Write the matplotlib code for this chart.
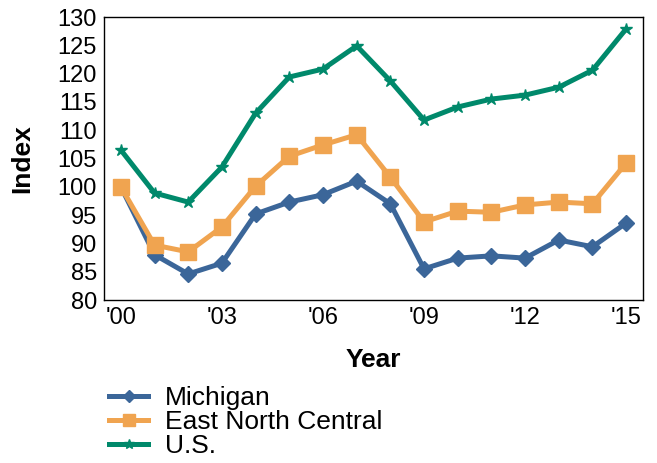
import numpy as np
import matplotlib.pyplot as plt

plt.rcParams['font.family'] = ['Liberation Sans', 'DejaVu Sans']

years = np.arange(2000, 2016)
year_ticks = [2000, 2003, 2006, 2009, 2012, 2015]
year_labels = ["'00", "'03", "'06", "'09", "'12", "'15"]

michigan = [100.0, 88.0, 84.6, 86.5, 95.2, 97.3, 98.6, 101.0, 97.0, 85.5, 87.4, 87.8, 87.4, 90.6, 89.4, 93.6]
enc = [100.0, 89.7, 88.5, 92.9, 100.1, 105.4, 107.4, 109.2, 101.7, 93.8, 95.7, 95.5, 96.8, 97.3, 97.0, 104.2]
us = [106.5, 98.9, 97.3, 103.5, 113.0, 119.4, 120.8, 124.9, 118.7, 111.8, 114.1, 115.5, 116.2, 117.6, 120.6, 127.9]

fig = plt.figure(figsize=(6.57, 4.63), dpi=100)
ax = fig.add_axes([104/657, 1 - 300/463, (643-104)/657, (300-17)/463])

ax.plot(years, michigan, color='#3b6699', lw=3.6, marker='D', ms=8, label='Michigan')
ax.plot(years, enc, color='#f0a450', lw=3.6, marker='s', ms=11, label='East North Central')
ax.plot(years, us, color='#00896b', lw=3.6, marker='*', ms=9, label='U.S.')

ax.set_xlim(1999.5, 2015.5)
ax.set_ylim(80, 130)
ax.set_yticks(range(80, 131, 5))
ax.set_xticks(year_ticks)
ax.set_xticklabels(year_labels)
ax.tick_params(length=0, labelsize=17, pad=5)
ax.set_xlabel('Year', fontsize=19, fontweight='bold', labelpad=14)
ax.set_ylabel('Index', fontsize=19, fontweight='bold', labelpad=17)
for s in ax.spines.values():
    s.set_linewidth(1.0)

ax.legend(loc='upper left', bbox_to_anchor=(0.01, -0.305), frameon=False,
          fontsize=19, handlelength=1.45, labelspacing=0.0, borderpad=0,
          borderaxespad=0, handletextpad=0.65, markerscale=0.8)

fig.savefig('out.png', dpi=100)
